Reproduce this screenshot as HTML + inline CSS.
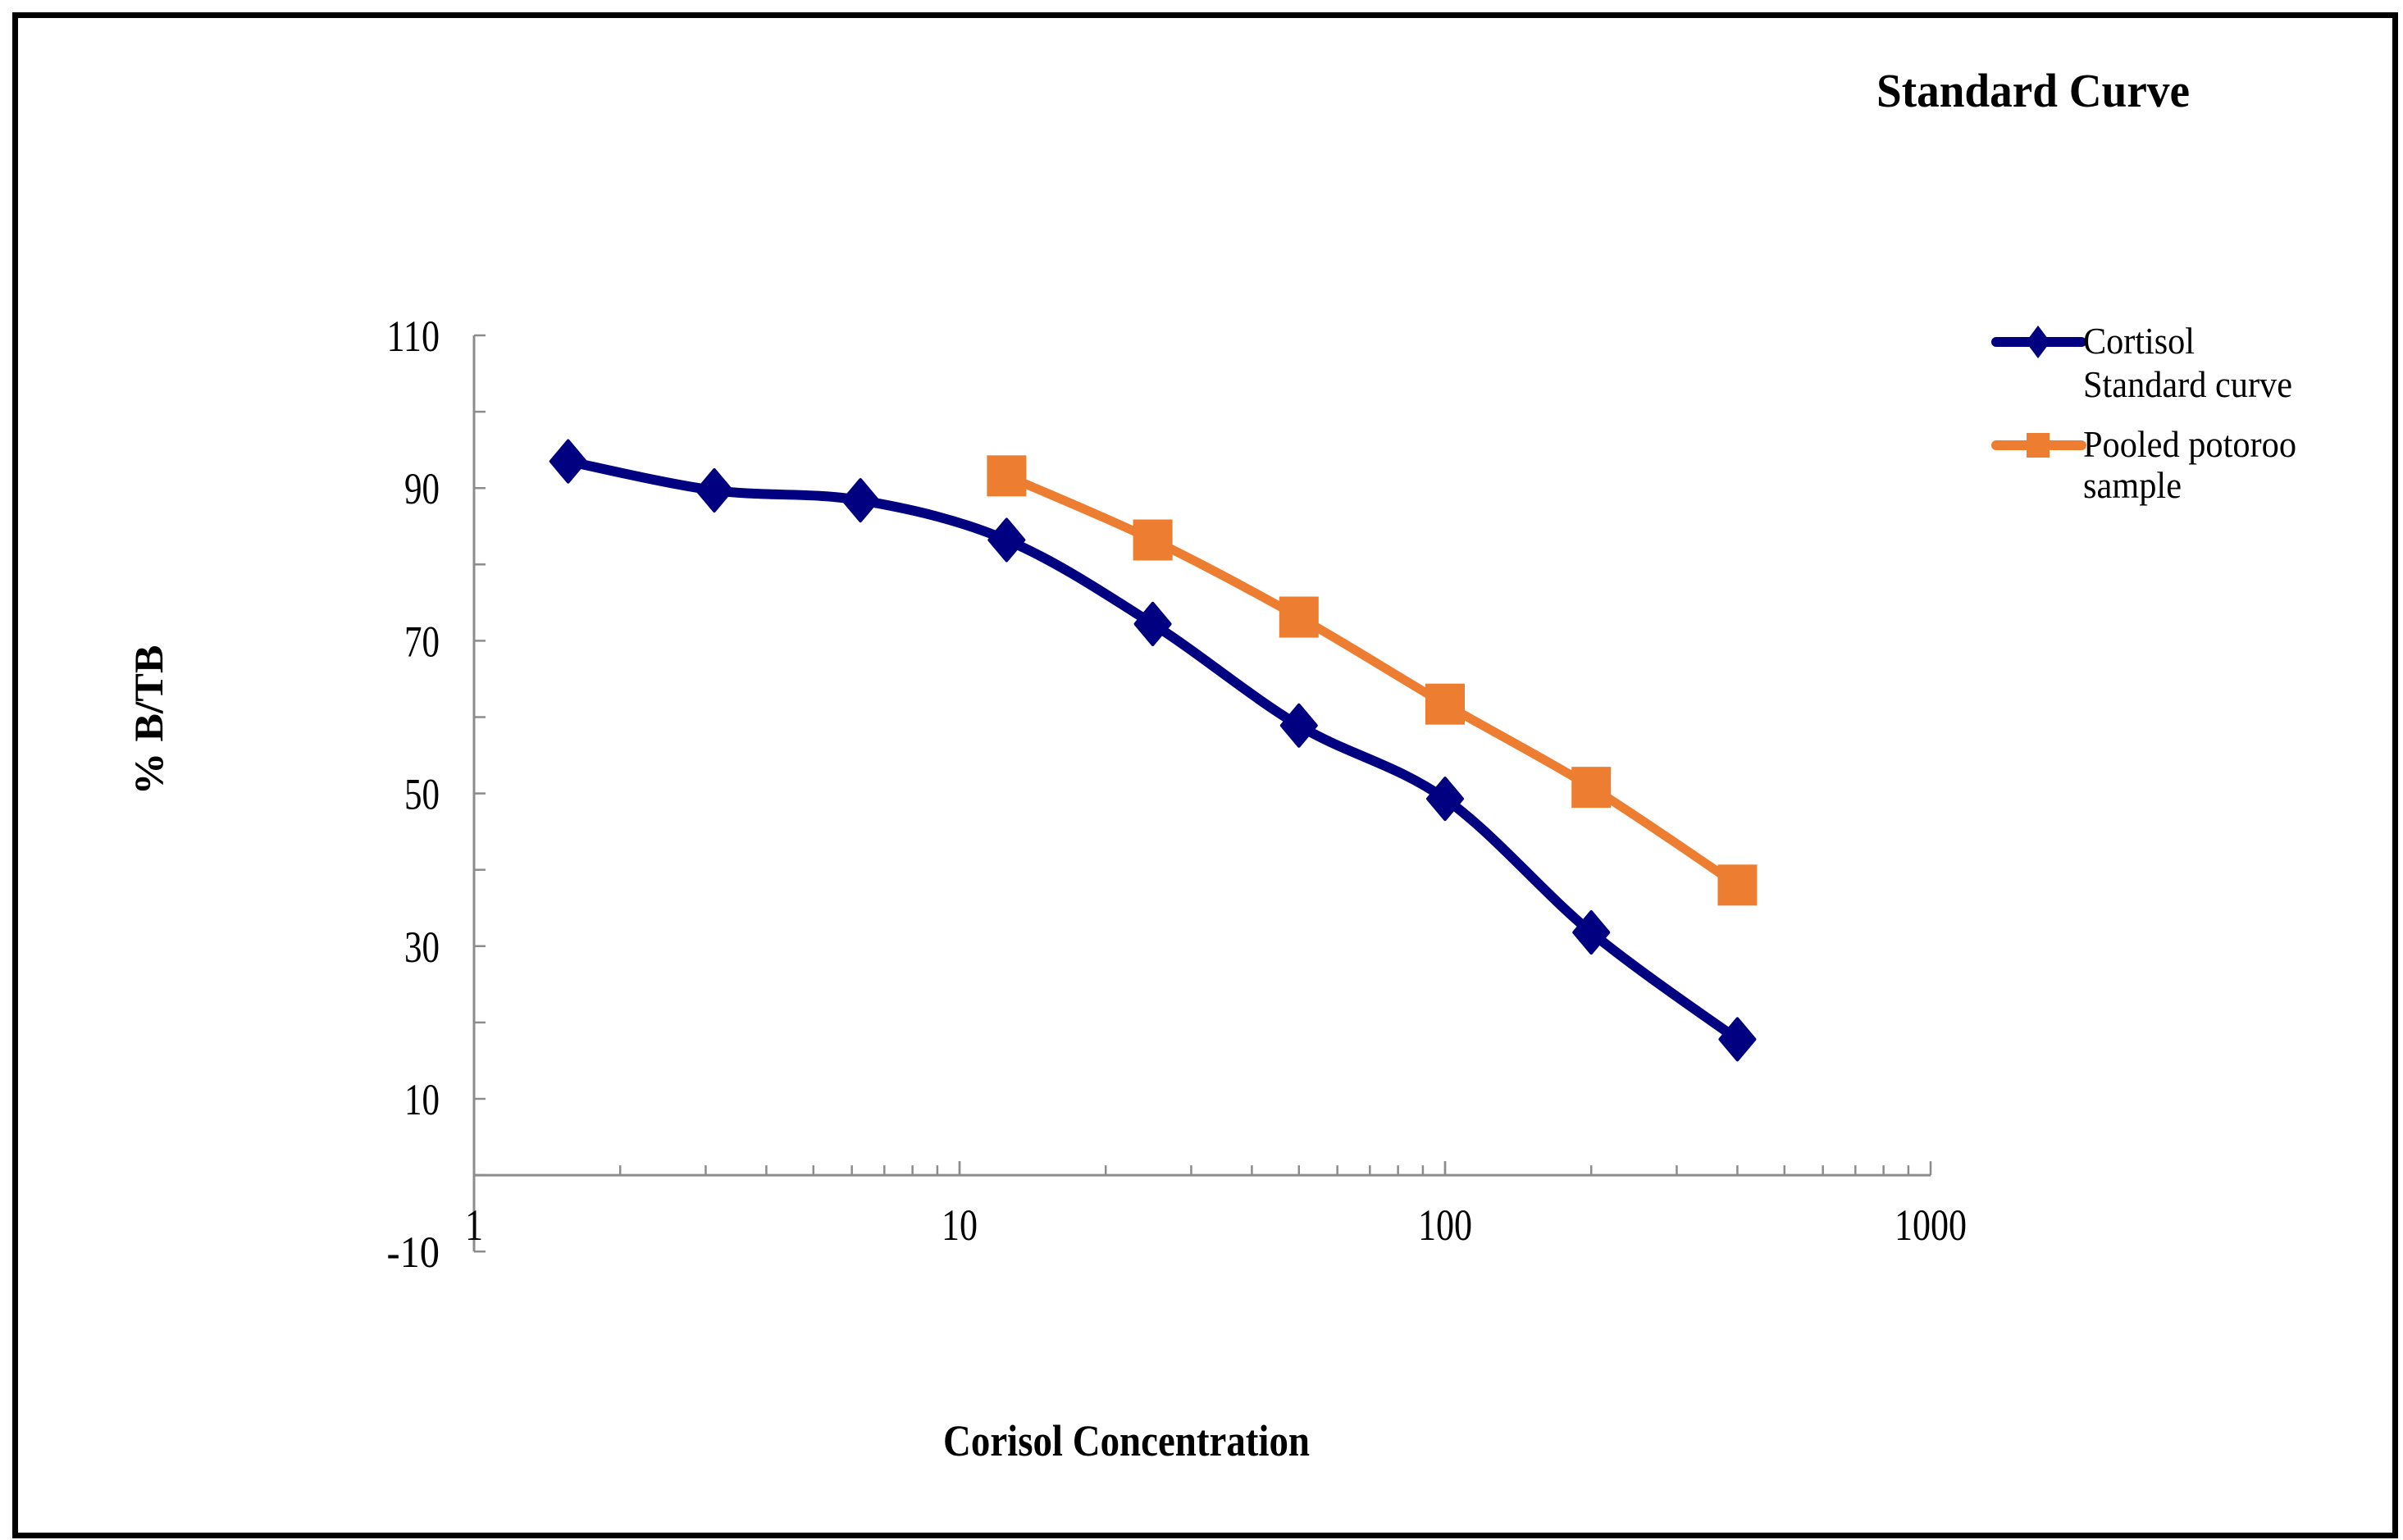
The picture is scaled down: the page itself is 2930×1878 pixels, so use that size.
<!DOCTYPE html>
<html><head><meta charset="utf-8"><style>
html,body{margin:0;padding:0;background:#fff;}
svg{display:block;}
text{font-family:"Liberation Serif",serif;}
</style></head><body>
<svg id="chart" width="2930" height="1878" viewBox="0 0 2930 1878" xmlns="http://www.w3.org/2000/svg" font-family="'Liberation Serif', serif">
<rect x="0" y="0" width="2930" height="1878" fill="#fff"/>
<rect x="18.5" y="18.5" width="2902" height="1854" fill="none" stroke="#000" stroke-width="7"/>
<text x="2288" y="130" font-size="58" font-weight="bold" textLength="382" lengthAdjust="spacingAndGlyphs">Standard Curve</text>
<text x="1150" y="1775" font-size="54" font-weight="bold" textLength="447" lengthAdjust="spacingAndGlyphs">Corisol Concentration</text>
<text transform="translate(198,878) rotate(-90)" text-anchor="middle" font-size="50" font-weight="bold" textLength="183" lengthAdjust="spacingAndGlyphs">% B/TB</text>
<g id="axes"></g>
<g id="series"></g>
<g font-family="'Liberation Serif', serif">
  <g>
    <line x1="2434" y1="417" x2="2538" y2="417" stroke="#000080" stroke-width="12" stroke-linecap="round"/>
    <polygon points="2485,397 2500,417 2485,437 2470,417" fill="#000080"/>
    <text x="2540" y="431" font-size="46" font-family="'Liberation Serif', serif" textLength="136" lengthAdjust="spacingAndGlyphs">Cortisol</text>
    <text x="2540" y="484" font-size="46" font-family="'Liberation Serif', serif" textLength="255" lengthAdjust="spacingAndGlyphs">Standard curve</text>
  </g>
  <g>
    <line x1="2434" y1="543" x2="2538" y2="543" stroke="#ED7D31" stroke-width="12" stroke-linecap="round"/>
    <rect x="2471" y="528" width="28" height="30" fill="#ED7D31"/>
    <text x="2540" y="557" font-size="46" font-family="'Liberation Serif', serif" textLength="260" lengthAdjust="spacingAndGlyphs">Pooled potoroo</text>
    <text x="2540" y="607" font-size="46" font-family="'Liberation Serif', serif" textLength="120" lengthAdjust="spacingAndGlyphs">sample</text>
  </g>
</g>
</svg>
<script>
const xValues = [1.5625, 3.125, 6.25, 12.5, 25, 50, 100, 200, 400];
const cortisolValues = [93.5, 89.7, 88.4, 83.2, 72.2, 58.9, 49.3, 31.8, 17.8];
const pooledX = [12.5, 25, 50, 100, 200, 400];
const pooledValues = [91.6, 83.2, 73.1, 61.7, 50.8, 38.0];
const yTickLabels = [110, 90, 70, 50, 30, 10, -10];
const xTickLabels = [1, 10, 100, 1000];

const NS = "http://www.w3.org/2000/svg";
const X0 = 578, DEC = 592;
const Y10 = 1340, PER = 9.31;
function sx(v){ return X0 + Math.log10(v) * DEC; }
function sy(v){ return Y10 - (v - 10) * PER; }
function mk(tag, attrs, parent){
  const e = document.createElementNS(NS, tag);
  for (const k in attrs) e.setAttribute(k, attrs[k]);
  parent.appendChild(e);
  return e;
}
const axes = document.getElementById('axes');
const series = document.getElementById('series');
const AX = "#8c8c8c";
const yAxis = mk('line', {x1: sx(1), y1: sy(110), x2: sx(1), y2: sy(-10), stroke: AX, 'stroke-width': 3}, axes);


for (let v = -10; v <= 110; v += 10) {
  const t = mk('line', {x1: sx(1), y1: sy(v), x2: sx(1) + 14, y2: sy(v), stroke: AX, 'stroke-width': 2.5}, axes);
  
  
}
yTickLabels.forEach(v => {
  const s = String(v);
  const t = mk('text', {x: 536, y: sy(v) + 19, 'text-anchor': 'end', 'font-size': 54}, axes);
  t.textContent = s;
  t.setAttribute('textLength', String(s.length * 21.5));
  t.setAttribute('lengthAdjust', 'spacingAndGlyphs');
  
  
});
const xAxis = mk('line', {x1: sx(1), y1: sy(0), x2: sx(1000), y2: sy(0), stroke: AX, 'stroke-width': 3}, axes);


for (let d = 1; d < 1000; d *= 10) {
  for (let m = 1; m <= 10; m++) {
    const v = d * m;
    const major = (m === 1 || m === 10);
    const t = mk('line', {x1: sx(v), y1: sy(0), x2: sx(v), y2: sy(0) - (major ? 17 : 12), stroke: AX, 'stroke-width': 2.5}, axes);
    
    
  }
}
xTickLabels.forEach(v => {
  const t = mk('text', {x: sx(v), y: 1512, 'text-anchor': 'middle', 'font-size': 54}, axes);
  t.textContent = String(v);
  t.setAttribute('textLength', String(String(v).length * 22));
  t.setAttribute('lengthAdjust', 'spacingAndGlyphs');
  
  
});
function smoothPath(pts){
  let d = `M${pts[0][0]},${pts[0][1]}`;
  for (let i = 0; i < pts.length - 1; i++) {
    const p0 = pts[i-1] || pts[i], p1 = pts[i], p2 = pts[i+1], p3 = pts[i+2] || p2;
    const c1 = [p1[0] + (p2[0]-p0[0])/6, p1[1] + (p2[1]-p0[1])/6];
    const c2 = [p2[0] - (p3[0]-p1[0])/6, p2[1] - (p3[1]-p1[1])/6];
    d += ` C${c1[0]},${c1[1]} ${c2[0]},${c2[1]} ${p2[0]},${p2[1]}`;
  }
  return d;
}
const orangePts = pooledX.map((x, i) => [sx(x), sy(pooledValues[i])]);
const op = mk('path', {d: smoothPath(orangePts), fill: 'none', stroke: '#ED7D31', 'stroke-width': 11, 'stroke-linejoin': 'round'}, series);


orangePts.forEach(p => {
  const r = mk('rect', {x: p[0] - 24, y: p[1] - 25, width: 48, height: 50, fill: '#ED7D31'}, series);
  
  
});
const bluePts = xValues.map((x, i) => [sx(x), sy(cortisolValues[i])]);
const bp = mk('path', {d: smoothPath(bluePts), fill: 'none', stroke: '#000080', 'stroke-width': 12, 'stroke-linejoin': 'round'}, series);


bluePts.forEach(p => {
  const m = mk('polygon', {points: `${p[0]},${p[1]-25} ${p[0]+21},${p[1]} ${p[0]},${p[1]+25} ${p[0]-21},${p[1]}`, fill: '#000080', stroke: '#000080', 'stroke-width': 4, 'stroke-linejoin': 'round'}, series);
  
  
});
</script>
</body></html>
